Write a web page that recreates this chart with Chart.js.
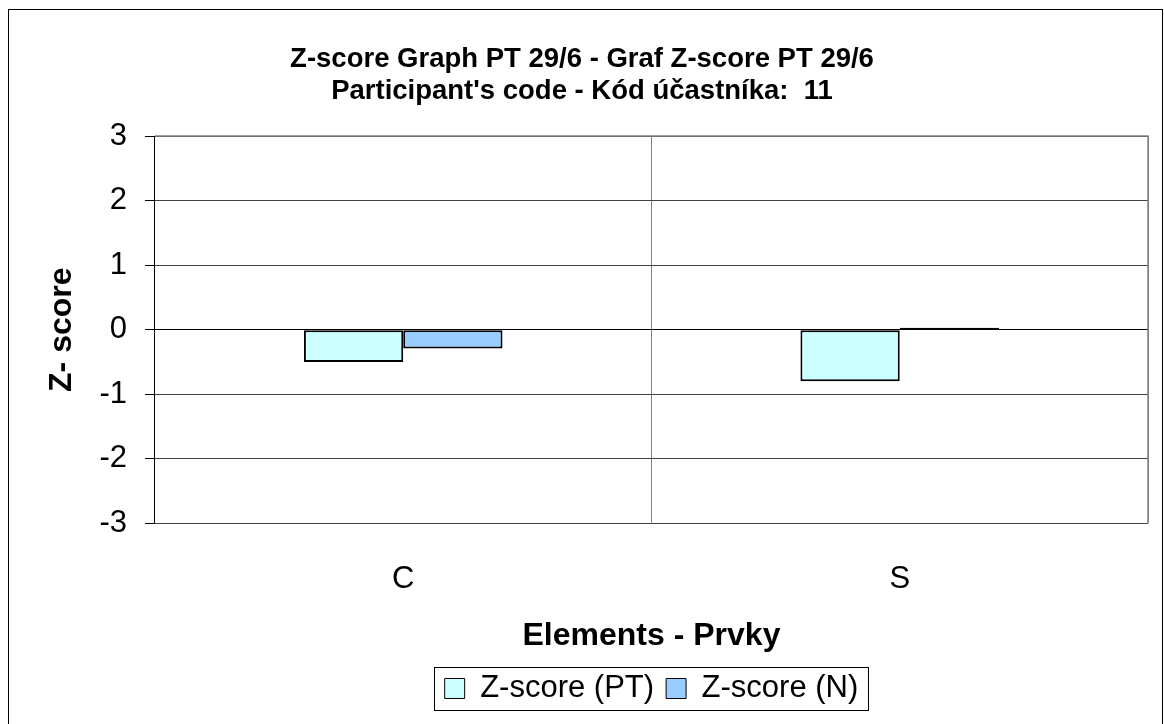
<!DOCTYPE html>
<html>
<head>
<meta charset="utf-8">
<script src="https://cdn.jsdelivr.net/npm/chart.js@4"></script>
<style>
  html, body { margin: 0; padding: 0; background: #fff; }
  #wrap { width: 1164px; height: 724px; position: relative; }
</style>
</head>
<body>
<div id="wrap"><canvas id="zChart"></canvas></div>
<script>
const categories = ['C', 'S'];
const seriesNames = ['Z-score (PT)', 'Z-score (N)'];
const zScorePT = [-0.5, -0.8];
const zScoreN = [-0.29, 0.03];
const titleLines = ['Z-score Graph PT 29/6 - Graf Z-score PT 29/6', "Participant's code - Kód účastníka:  11"];

const FONT = 'Arial, "Liberation Sans", sans-serif';

// frame around whole chart, plot border, box round the legend
const framePlugin = {
    id: 'frame',
    beforeDraw(chart) {
        const ctx = chart.ctx;
        ctx.save();
        ctx.fillStyle = '#fff';
        ctx.fillRect(0, 0, chart.width, chart.height);
        ctx.strokeStyle = '#000';
        ctx.lineWidth = 1;
        ctx.strokeRect(8.5, 9.5, 1154, 730);
        ctx.restore();
    },
    afterDraw(chart) {
        const ctx = chart.ctx;
        const a = chart.chartArea;
        ctx.save();
        ctx.strokeStyle = '#808080';
        ctx.lineWidth = 1.5;
        ctx.beginPath();
        ctx.moveTo(a.left, a.top);
        ctx.lineTo(a.right, a.top);
        ctx.lineTo(a.right, a.bottom);
        ctx.stroke();

        const hb = chart.legend.legendHitBoxes;
        if (hb && hb.length) {
            const first = hb[0], last = hb[hb.length - 1];
            const x0 = Math.round(first.left - 11), x1 = Math.round(last.left + last.width + 10);
            const y0 = Math.round(first.top - 6), y1 = Math.round(first.top + first.height + 6);
            ctx.strokeStyle = '#000';
            ctx.lineWidth = 1;
            ctx.strokeRect(x0 + 0.5, y0 + 0.5, x1 - x0, y1 - y0);
        }
        ctx.restore();
    }
};

new Chart(document.getElementById('zChart'), {
    type: 'bar',
    data: {
        labels: categories,
        datasets: [{
            label: seriesNames[0],
            data: zScorePT,
            backgroundColor: '#CCFFFF',
            borderColor: '#000',
            borderWidth: 2,
            borderSkipped: false,
        },
        {
            label: seriesNames[1],
            data: zScoreN,
            backgroundColor: '#99CCFF',
            borderColor: '#000',
            borderWidth: 2,
            borderSkipped: false,
        }]
    },
    options: {
        responsive: true,
        maintainAspectRatio: false,
        animation: false,
        devicePixelRatio: 1,
        datasets: { bar: { categoryPercentage: 0.4, barPercentage: 1.0 } },
        layout: { padding: { left: 16, right: 16, top: 43, bottom: 10 } },
        plugins: {
            title: {
                display: true,
                text: titleLines,
                color: '#000',
                font: { family: FONT, size: 27.5, weight: 'bold', lineHeight: 32 / 27.5 },
                padding: { top: 0, bottom: 29 }
            },
            legend: {
                position: 'bottom',
                fullSize: false,
                labels: {
                    color: '#000',
                    font: { family: FONT, size: 31 },
                    boxWidth: 20,
                    boxHeight: 20,
                    padding: 12,
                    generateLabels(chart) {
                        return chart.data.datasets.map((ds, i) => ({
                            text: ds.label,
                            fillStyle: ds.backgroundColor,
                            strokeStyle: '#000',
                            lineWidth: 1,
                            datasetIndex: i
                        }));
                    }
                }
            },
            tooltip: { enabled: false }
        },
        scales: {
            x: {
                offset: true,
                grid: { offset: true, color: '#808080', lineWidth: 1, drawTicks: false },
                border: { display: false },
                ticks: { color: '#000', font: { family: FONT, size: 31 }, padding: 37 },
                title: {
                    display: true,
                    text: 'Elements - Prvky',
                    color: '#000',
                    font: { family: FONT, size: 32, weight: 'bold' },
                    padding: { top: -18, bottom: 6 }
                }
            },
            y: {
                min: -3,
                max: 3,
                ticks: { stepSize: 1, color: '#000', font: { family: FONT, size: 31 }, padding: 18 },
                grid: {
                    color: (c) => c.tick && c.tick.value === 0 ? '#000' : '#404040',
                    lineWidth: 1,
                    tickLength: 10,
                    tickColor: '#000'
                },
                border: { color: '#000', width: 1 },
                title: {
                    display: true,
                    text: 'Z- score',
                    color: '#000',
                    font: { family: FONT, size: 32, weight: 'bold' },
                    padding: { top: 27, bottom: 0 }
                }
            }
        }
    },
    plugins: [framePlugin]
});
</script>
</body>
</html>
